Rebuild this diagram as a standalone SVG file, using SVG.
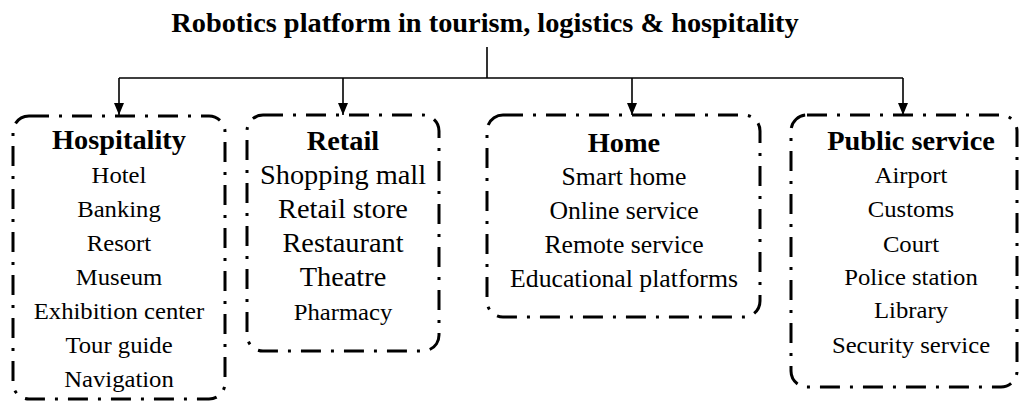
<svg xmlns="http://www.w3.org/2000/svg" width="1019" height="404" viewBox="0 0 1019 404">
<style>
text { font-family: "Liberation Serif", "Times New Roman", serif; fill: #000; text-anchor: middle; }
.title { font-weight: bold; font-size: 27px; }
.h { font-weight: bold; font-size: 27px; }
.t { font-size: 23.5px; }
.tl { font-size: 27px; }
.tm { font-size: 24.5px; }
.box { fill: none; stroke: #000; stroke-width: 3; stroke-dasharray: 20 10 3 10; }
.conn { fill: none; stroke: #000; stroke-width: 1.6; }
</style>
<defs>
<marker id="arr" markerUnits="userSpaceOnUse" viewBox="0 0 12 10" refX="12" refY="5" markerWidth="12" markerHeight="10" orient="auto">
<path d="M0,0 L12,5 L0,10 z" fill="#000"/>
</marker>
</defs>
<rect width="1019" height="404" fill="#fff"/>
<g id="title" transform="matrix(1.05 0 0 1 485 0)">
<text class="title" x="0" y="32">Robotics platform in tourism, logistics &amp; hospitality</text>
</g>
<g id="connectors">
<path class="conn" d="M487,47 V78 M119,78 H903"/>
<path class="conn" d="M119,78 V115" marker-end="url(#arr)"/>
<path class="conn" d="M343,78 V115" marker-end="url(#arr)"/>
<path class="conn" d="M632,78 V115" marker-end="url(#arr)"/>
<path class="conn" d="M903,78 V115" marker-end="url(#arr)"/>
</g>
<g id="hospitality">
<rect class="box" x="13" y="116" width="212" height="283" rx="16"/>
<g transform="matrix(1.05 0 0 1 119 0)">
<text class="h" x="0" y="149">Hospitality</text>
<text class="t" x="0" y="183">Hotel</text>
<text class="t" x="0" y="217">Banking</text>
<text class="t" x="0" y="251">Resort</text>
<text class="t" x="0" y="285">Museum</text>
<text class="t" x="0" y="319">Exhibition center</text>
<text class="t" x="0" y="353">Tour guide</text>
<text class="t" x="0" y="387">Navigation</text>
</g>
</g>
<g id="retail">
<rect class="box" x="247" y="115" width="192" height="236" rx="16"/>
<g transform="matrix(1.05 0 0 1 343 0)">
<text class="h" x="0" y="150">Retail</text>
<text class="tl" x="0" y="184">Shopping mall</text>
<text class="tl" x="0" y="218">Retail store</text>
<text class="tl" x="0" y="252">Restaurant</text>
<text class="tl" x="0" y="286">Theatre</text>
<text class="t" x="0" y="320">Pharmacy</text>
</g>
</g>
<g id="home">
<rect class="box" x="487" y="115" width="273" height="202" rx="16"/>
<g transform="matrix(1.05 0 0 1 624 0)">
<text class="h" x="0" y="152">Home</text>
<text class="tm" x="0" y="185">Smart home</text>
<text class="tm" x="0" y="219">Online service</text>
<text class="tm" x="0" y="253">Remote service</text>
<text class="tm" x="0" y="287">Educational platforms</text>
</g>
</g>
<g id="public-service">
<rect class="box" x="791" y="115" width="226" height="272" rx="16"/>
<g transform="matrix(1.05 0 0 1 911 0)">
<text class="h" x="0" y="150">Public service</text>
<text class="t" x="0" y="183">Airport</text>
<text class="t" x="0" y="217">Customs</text>
<text class="t" x="0" y="252">Court</text>
<text class="t" x="0" y="285">Police station</text>
<text class="t" x="0" y="318">Library</text>
<text class="t" x="0" y="353">Security service</text>
</g>
</g>
</svg>
